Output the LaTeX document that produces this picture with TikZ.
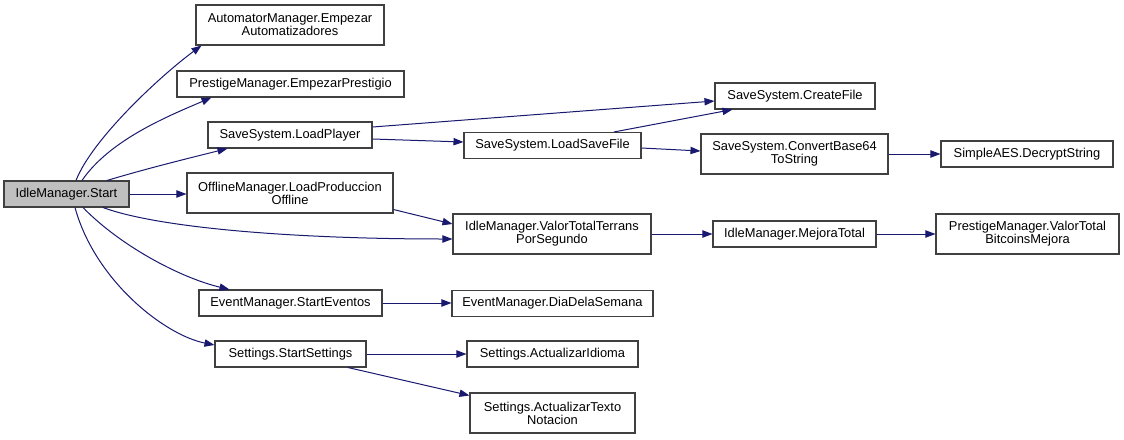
\documentclass[tikz,border=0pt]{standalone}
\usepackage{fontspec}
\setmainfont{Liberation Sans}
\usetikzlibrary{arrows.meta,calc}
\definecolor{edgeblue}{HTML}{191970}
\definecolor{boxgray}{HTML}{BFBFBF}
\definecolor{boxline}{HTML}{404040}
\tikzset{
  box/.style={draw=boxline, line width=0.8pt, fill=white, inner sep=0pt, align=center,
    font=\fontsize{9.65pt}{9.9pt}\selectfont, text=black},
  one/.style={minimum height=19.5pt},
  two/.style={minimum height=30pt},
  call/.style={draw=edgeblue, line width=0.75pt, -{Triangle[length=7.5pt,width=5.5pt]}},
}
\begin{document}
\begin{tikzpicture}[x=0.75pt,y=-0.75pt]
\useasboundingbox[fill=white] (0,0) rectangle (1124,439);
% nodes
\node[box,one,fill=boxgray,minimum width=93.75pt] (start) at (66.5,194) {IdleManager.Start};
\node[box,two,minimum width=141pt] (auto) at (290,25) {AutomatorManager.Empezar\\Automatizadores};
\node[box,one,minimum width=170.25pt] (prest) at (290.5,84) {PrestigeManager.EmpezarPrestigio};
\node[box,one,minimum width=123pt] (loadp) at (290,135) {SaveSystem.LoadPlayer};
\node[box,two,minimum width=154.5pt] (offl) at (290,193) {OfflineManager.LoadProduccion\\Offline};
\node[box,one,minimum width=137.25pt] (startev) at (290.5,303) {EventManager.StartEventos};
\node[box,one,minimum width=113.25pt] (startset) at (290.5,354) {Settings.StartSettings};
\node[box,one,minimum width=120pt] (createf) at (795,96) {SaveSystem.CreateFile};
\node[box,one,minimum width=132.75pt] (loadsf) at (552.5,145.5) {SaveSystem.LoadSaveFile};
\node[box,two,minimum width=140.25pt] (conv) at (794.5,154) {SaveSystem.ConvertBase64\\ToString};
\node[box,two,minimum width=148.5pt] (valort) at (552,234) {IdleManager.ValorTotalTerrans\\PorSegundo};
\node[box,one,minimum width=122.25pt] (mejora) at (794.5,234) {IdleManager.MejoraTotal};
\node[box,one,minimum width=129pt] (decrypt) at (1027,154) {SimpleAES.DecryptString};
\node[box,two,minimum width=137.25pt] (pvalor) at (1027.5,234) {PrestigeManager.ValorTotal\\BitcoinsMejora};
\node[box,one,minimum width=150.75pt] (dia) at (552.5,303.5) {EventManager.DiaDelaSemana};
\node[box,one,minimum width=128.25pt] (idioma) at (552.5,354) {Settings.ActualizarIdioma};
\node[box,two,minimum width=123.75pt] (notac) at (552.5,413) {Settings.ActualizarTexto\\Notacion};
% connectors from IdleManager.Start
\draw[call] ($(start.north)+(9.5,0)$) .. controls +(16,-41) and +(-42,31) .. ($(auto.south west)+(6,0)$);
\draw[call] ($(start.north)+(15.5,0)$) .. controls +(28,-41) and +(-42,18) .. ($(prest.south west)+(35,0)$);
\draw[call] ($(start.north)+(40.5,0)$) .. controls +(40,-12) and +(-40,10) .. ($(loadp.south west)+(20,0)$);
\draw[call] (start.east) -- (start.east -| offl.west);
\draw[call] ($(start.south)+(36.5,0)$) .. controls +(57,21) and +(-153,0) .. ($(valort.west)+(0,5)$);
\draw[call] ($(start.south)+(16.5,0)$) .. controls +(37,38) and +(-50,-12) .. ($(startev.north west)+(31,0)$);
\draw[call] ($(start.south)+(8.5,0)$) .. controls +(20,73) and +(-50,-10) .. ($(startset.west)+(0,-9)$);
% second level
\draw[call] ($(offl.south east)+(0,-4)$) -- ($(valort.west)+(0,-10)$);
\draw[call] ($(loadp.east)+(0,-8)$) -- ($(createf.west)+(0,5)$);
\draw[call] ($(loadp.east)+(0,4)$) -- ($(loadsf.west)+(0,-3.5)$);
\draw[call] (startev.east) -- (startev.east -| dia.west);
\draw[call] (startset.east) -- (startset.east -| idioma.west);
\draw[call] ($(startset.south)+(57.5,0)$) -- ($(notac.north west)+(0,3)$);
% third level
\draw[call] ($(loadsf.north)+(61.5,0)$) -- ($(createf.south west)+(18,0)$);
\draw[call] ($(loadsf.east)+(0,2.5)$) -- ($(conv.west)+(0,-3)$);
\draw[call] (valort.east) -- (valort.east -| mejora.west);
% fourth level
\draw[call] (conv.east) -- (conv.east -| decrypt.west);
\draw[call] (mejora.east) -- (mejora.east -| pvalor.west);
\end{tikzpicture}
\end{document}
